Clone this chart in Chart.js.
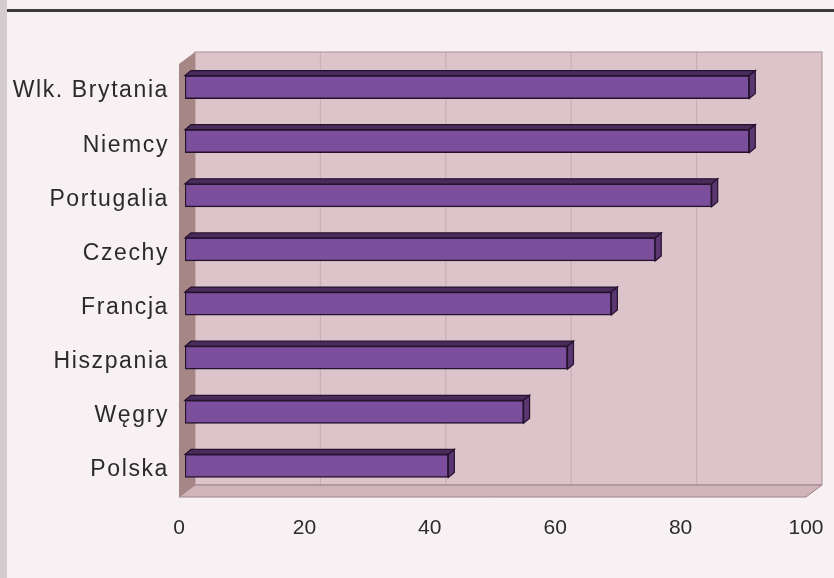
<!DOCTYPE html>
<html>
<head>
<meta charset="utf-8">
<script src="https://cdn.jsdelivr.net/npm/chart.js@4/dist/chart.umd.min.js"></script>
<style>
  html, body { margin: 0; padding: 0; background: #f8f1f3; }
  #wrap { width: 834px; height: 578px; }
</style>
</head>
<body>
<div id="wrap"><canvas id="chart" width="834" height="578"></canvas></div>
<script>
// data
const countries = ['Wlk. Brytania', 'Niemcy', 'Portugalia', 'Czechy', 'Francja', 'Hiszpania', 'Węgry', 'Polska'];
const values = [90, 90, 84, 75, 68, 61, 54, 42];
const xTicks = [0, 20, 40, 60, 80, 100];

// depth of walls, bars and where bars sit inside the depth
const WALL_DX = 16, WALL_DY = -12;
const BAR_DX = 6, BAR_DY = -5;
const BAR_SHIFT_X = 6, BAR_SHIFT_Y = -4;

// background, walls, floor and back gridlines
const wallsPlugin = {
    id: 'walls',
    beforeDraw(chart) {
        const ctx = chart.ctx;
        const a = chart.chartArea;
        const xs = chart.scales.x;

        // slightly letter spaced category labels, like the scan
        const ys = chart.scales.y;
        if (!ys._spaced) {
            const orig = ys.drawLabels.bind(ys);
            ys.drawLabels = function (area) {
                this.ctx.save();
                this.ctx.letterSpacing = '1.6px';
                orig(area);
                this.ctx.restore();
            };
            ys._spaced = true;
        }

        ctx.save();
        ctx.fillStyle = '#f8f1f3';
        ctx.fillRect(0, 0, chart.width, chart.height);
        // left scan strip and top rule
        ctx.fillStyle = '#d3cdcf';
        ctx.fillRect(0, 0, 7, chart.height);
        ctx.fillStyle = '#3a3a3a';
        ctx.fillRect(7, 9, chart.width - 7, 3);

        // back wall
        ctx.fillStyle = '#dcc4ca';
        ctx.fillRect(a.left + WALL_DX, a.top + WALL_DY, a.right - a.left, a.bottom - a.top);
        ctx.strokeStyle = '#a88f95';
        ctx.lineWidth = 1;
        ctx.strokeRect(a.left + WALL_DX, a.top + WALL_DY, a.right - a.left, a.bottom - a.top);

        // back gridlines
        ctx.strokeStyle = 'rgba(150,120,128,0.3)';
        xTicks.slice(1, -1).forEach(v => {
            const px = xs.getPixelForValue(v) + WALL_DX;
            ctx.beginPath();
            ctx.moveTo(px, a.top + WALL_DY);
            ctx.lineTo(px, a.bottom + WALL_DY);
            ctx.stroke();
        });

        // left wall
        ctx.fillStyle = '#a78785';
        ctx.beginPath();
        ctx.moveTo(a.left, a.top);
        ctx.lineTo(a.left + WALL_DX, a.top + WALL_DY);
        ctx.lineTo(a.left + WALL_DX, a.bottom + WALL_DY);
        ctx.lineTo(a.left, a.bottom);
        ctx.closePath();
        ctx.fill();

        // floor
        ctx.fillStyle = '#d1b3ba';
        ctx.beginPath();
        ctx.moveTo(a.left, a.bottom);
        ctx.lineTo(a.left + WALL_DX, a.bottom + WALL_DY);
        ctx.lineTo(a.right + WALL_DX, a.bottom + WALL_DY);
        ctx.lineTo(a.right, a.bottom);
        ctx.closePath();
        ctx.fill();
        ctx.strokeStyle = '#9a8088';
        ctx.stroke();
        ctx.restore();
    }
};

// bars sit in the middle of the depth; add top and end faces
const bar3dPlugin = {
    id: 'bar3d',
    beforeDatasetsDraw(chart) {
        chart.ctx.save();
        chart.ctx.translate(BAR_SHIFT_X, BAR_SHIFT_Y);
    },
    afterDatasetsDraw(chart) {
        const ctx = chart.ctx;
        const meta = chart.getDatasetMeta(0);
        ctx.lineWidth = 1.2;
        ctx.strokeStyle = '#24122e';
        meta.data.forEach(bar => {
            const p = bar.getProps(['x', 'y', 'base', 'height'], true);
            const top = p.y - p.height / 2;
            const bottom = p.y + p.height / 2;
            // top face
            ctx.fillStyle = '#4a2c5c';
            ctx.beginPath();
            ctx.moveTo(p.base, top);
            ctx.lineTo(p.base + BAR_DX, top + BAR_DY);
            ctx.lineTo(p.x + BAR_DX, top + BAR_DY);
            ctx.lineTo(p.x, top);
            ctx.closePath();
            ctx.fill();
            ctx.stroke();
            // end face
            ctx.fillStyle = '#5b3771';
            ctx.beginPath();
            ctx.moveTo(p.x, top);
            ctx.lineTo(p.x + BAR_DX, top + BAR_DY);
            ctx.lineTo(p.x + BAR_DX, bottom + BAR_DY);
            ctx.lineTo(p.x, bottom);
            ctx.closePath();
            ctx.fill();
            ctx.stroke();
        });
        ctx.restore();
    }
};

const ctx = document.getElementById('chart').getContext('2d');
new Chart(ctx, {
    type: 'bar',
    data: {
        labels: countries,
        datasets: [{
            data: values,
            backgroundColor: '#7b4f9c',
            borderColor: '#24122e',
            borderWidth: 1.5,
            borderSkipped: false,
            barThickness: 23
        }]
    },
    options: {
        indexAxis: 'y',
        responsive: false,
        animation: false,
        layout: {
            padding: { left: 0, right: 28, top: 64, bottom: 0 }
        },
        scales: {
            x: {
                min: 0,
                max: 100,
                afterBuildTicks: (axis) => { axis.ticks = xTicks.map(v => ({ value: v })); },
                afterFit: (axis) => {
                    axis.height = 81;
                    axis.paddingLeft = 0;
                    axis.paddingRight = 0;
                },
                grid: { display: false, drawTicks: false },
                border: { display: false },
                ticks: {
                    padding: 19,
                    color: '#2c2c2c',
                    font: { family: 'Liberation Sans, Arial, sans-serif', size: 21 }
                }
            },
            y: {
                afterFit: (axis) => { axis.width = 179; },
                grid: { display: false, drawTicks: false },
                border: { display: false },
                ticks: {
                    padding: 10,
                    color: '#2a2a2a',
                    font: { family: 'Liberation Sans, Arial, sans-serif', size: 23 }
                }
            }
        },
        plugins: {
            legend: { display: false },
            tooltip: { enabled: false }
        }
    },
    plugins: [wallsPlugin, bar3dPlugin]
});
</script>
</body>
</html>
